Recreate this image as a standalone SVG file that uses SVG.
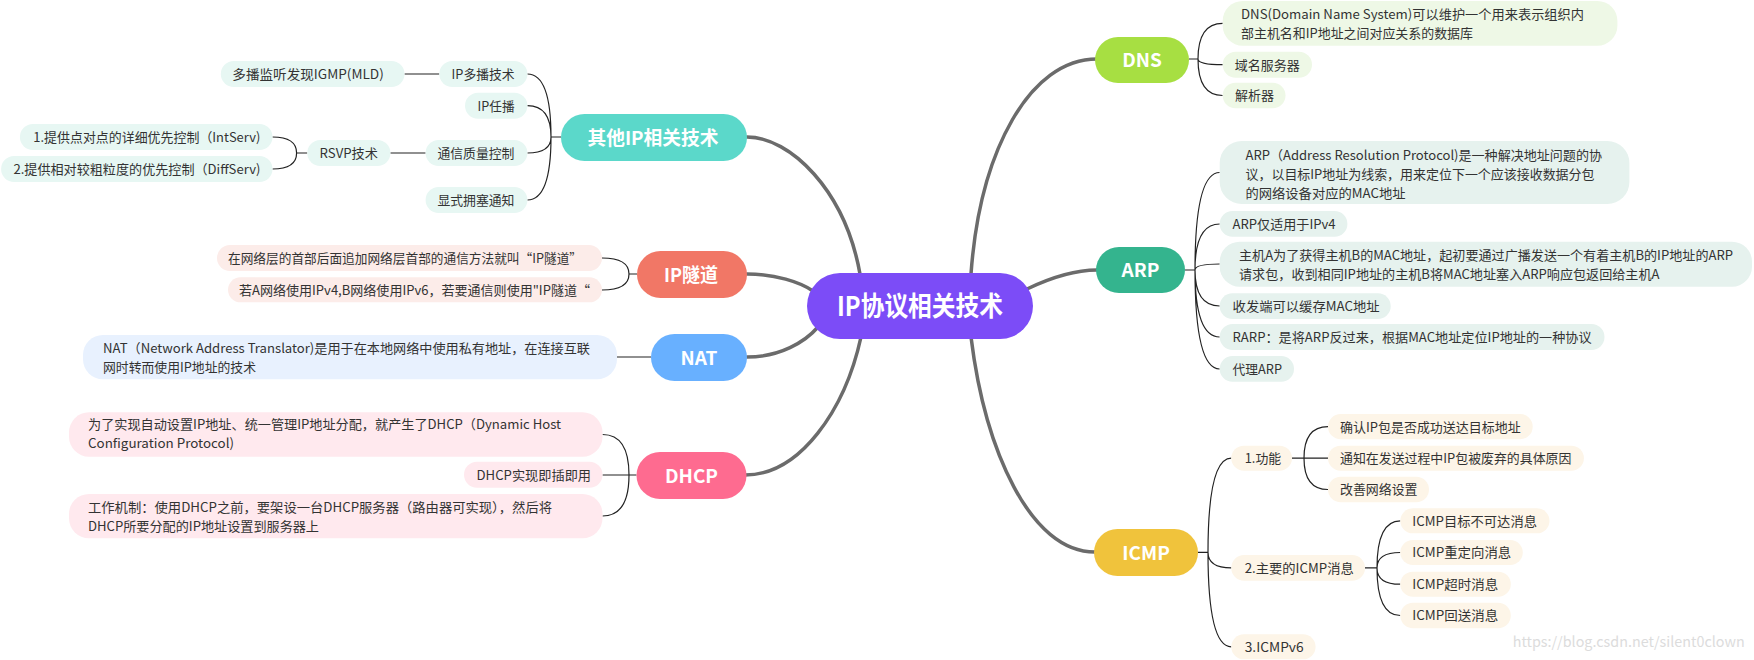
<svg xmlns="http://www.w3.org/2000/svg" width="1754" height="660" viewBox="0 0 1754 660">
<style>
text{font-family:"Noto Sans CJK SC","Noto Sans",sans-serif}
.t{font-size:13px;fill:#333}
.m{font-size:19px;font-weight:bold;fill:#fff;text-anchor:middle}
.thick{fill:none;stroke:#6b6b6b;stroke-width:3.5;stroke-linecap:round}
.thin{fill:none;stroke:#222;stroke-width:1.2}
.c1{fill:#e7f7f3}.c2{fill:#fcece9}.c3{fill:#e8f1fe}.c4{fill:#ffe9ee}.c5{fill:#eef8e6}.c6{fill:#e6f2ee}.c7{fill:#fdf5e8}
</style>
<rect width="1754" height="660" fill="#fff"/>
<g id="connectors">
<path class="thick" d="M747,137 C790,137 845,190 860,274"/>
<path class="thick" d="M971,274 C980,150 1030,59 1097,59"/>
<path class="thick" d="M747,274 C775,274 800,282 813,291"/>
<path class="thick" d="M747,357 C780,357 805,342 818,327"/>
<path class="thick" d="M1027,289 C1050,278 1075,270 1097,270"/>
<path class="thick" d="M861,337 C845,410 800,475 745,475"/>
<path class="thick" d="M971,337 C985,450 1030,552 1095,552"/>
<path class="thin" d="M404.5,74 H439.3 M390.4,153 H425.6 M296.6,153 H307.3 M272.5,137 Q296.6,137 296.6,153 M272.5,169 Q296.6,169 296.6,153"/>
<path class="thin" d="M551,137 H561 M527.4,74 Q551,74 551,137 M527.4,105.7 Q551,105.7 551,137 M527.4,153 Q551,153 551,137 M527.4,200 Q551,200 551,137"/>
<path class="thin" d="M629,274 H637 M602,258 Q629,258 629,274 M602,290 Q629,290 629,274"/>
<path class="thin" d="M617,357 H651"/>
<path class="thin" d="M629,475 H636.5 M602.5,434.5 Q629,434.5 629,475 M602.5,475 H629 M602.5,516 Q629,516 629,475"/>
<path class="thin" d="M1189,59 H1198 M1198,59 Q1198,23.3 1222.7,23.3 M1198,59 Q1198,64.7 1222.7,64.7 M1198,59 Q1198,95.5 1222.7,95.5"/>
<path class="thin" d="M1185,270 H1195 M1195,270 Q1195,172.5 1219.7,172.5 M1195,270 Q1195,224 1219.7,224 M1195,270 Q1195,264 1219.7,264 M1195,270 Q1195,306 1219.7,306 M1195,270 Q1195,337 1219.7,337 M1195,270 Q1195,369 1219.7,369"/>
<path class="thin" d="M1197.7,552.3 H1208 M1208,552.3 Q1208,458.2 1231.3,458.2 M1208,552.3 Q1208,567.9 1231.3,567.9 M1208,552.3 Q1208,646.8 1231.3,646.8"/>
<path class="thin" d="M1292,458.2 H1328 M1304,458.2 Q1304,426.7 1328,426.7 M1304,458.2 Q1304,489.5 1328,489.5"/>
<path class="thin" d="M1365,567.9 H1377 M1377,567.9 Q1377,520.8 1400.3,520.8 M1377,567.9 Q1377,552.5 1400.3,552.5 M1377,567.9 Q1377,584.2 1400.3,584.2 M1377,567.9 Q1377,615.5 1400.3,615.5"/>
</g>
<g id="center">
<rect x="807" y="273" width="226" height="66" rx="33" fill="#7c4cf7"/>
<text x="920" y="316" font-size="27" font-weight="bold" fill="#fff" text-anchor="middle" textLength="166" lengthAdjust="spacingAndGlyphs">IP协议相关技术</text>
</g>
<g id="other">
<rect x="561" y="114" width="186" height="47" rx="23.5" fill="#5bd8ca"/>
<text class="m" x="653" y="144.5" textLength="131" lengthAdjust="spacingAndGlyphs">其他IP相关技术</text>
</g>
<g id="other-children">
<rect class="c1" x="220.8" y="61" width="183.7" height="26" rx="13"/><text class="t" x="232.3" y="78.8" textLength="151.5" lengthAdjust="spacingAndGlyphs">多播监听发现IGMP(MLD)</text>
<rect class="c1" x="439.3" y="61" width="88.1" height="26" rx="13"/><text class="t" x="451.6" y="78.8" textLength="63" lengthAdjust="spacingAndGlyphs">IP多播技术</text>
<rect class="c1" x="465" y="92.7" width="62.4" height="26" rx="13"/><text class="t" x="477.6" y="110.5" textLength="37" lengthAdjust="spacingAndGlyphs">IP任播</text>
<rect class="c1" x="425.6" y="140" width="101.8" height="26" rx="13"/><text class="t" x="437.4" y="157.8" textLength="77" lengthAdjust="spacingAndGlyphs">通信质量控制</text>
<rect class="c1" x="425.6" y="187" width="101.8" height="26" rx="13"/><text class="t" x="437.4" y="204.8" textLength="77" lengthAdjust="spacingAndGlyphs">显式拥塞通知</text>
<rect class="c1" x="307.3" y="140" width="83.1" height="26" rx="13"/><text class="t" x="319.6" y="157.8" textLength="58.4" lengthAdjust="spacingAndGlyphs">RSVP技术</text>
<rect class="c1" x="19.9" y="124" width="252.6" height="26" rx="13"/><text class="t" x="33.3" y="141.8" textLength="227" lengthAdjust="spacingAndGlyphs">1.提供点对点的详细优先控制（IntServ)</text>
<rect class="c1" x="1.1" y="156" width="271.4" height="26" rx="13"/><text class="t" x="13.4" y="173.8" textLength="247" lengthAdjust="spacingAndGlyphs">2.提供相对较粗粒度的优先控制（DiffServ)</text>
</g>
<g id="tunnel">
<rect x="637" y="251" width="110" height="47" rx="23.5" fill="#f17766"/>
<text class="m" x="691" y="281.5" textLength="54" lengthAdjust="spacingAndGlyphs">IP隧道</text>
</g>
<g id="tunnel-children">
<rect class="c2" x="217" y="245" width="385" height="26" rx="13"/><text class="t" x="228" y="262.8" textLength="354" lengthAdjust="spacingAndGlyphs">在网络层的首部后面追加网络层首部的通信方法就叫“IP隧道”</text>
<rect class="c2" x="228" y="277.3" width="374" height="25" rx="12.5"/><text class="t" x="239" y="294.6" textLength="351" lengthAdjust="spacingAndGlyphs">若A网络使用IPv4,B网络使用IPv6，若要通信则使用"IP隧道“</text>
</g>
<g id="nat">
<rect x="651" y="334" width="96" height="47" rx="23.5" fill="#68b0ff"/>
<text class="m" x="699" y="364.5">NAT</text>
</g>
<g id="nat-children">
<rect class="c3" x="83" y="335" width="534" height="44.3" rx="20"/>
<text class="t" x="103" y="352.5" textLength="487" lengthAdjust="spacingAndGlyphs">NAT（Network Address Translator)是用于在本地网络中使用私有地址，在连接互联</text>
<text class="t" x="103" y="371.5" textLength="153" lengthAdjust="spacingAndGlyphs">网时转而使用IP地址的技术</text>
</g>
<g id="dhcp">
<rect x="636.5" y="452" width="110" height="47" rx="23.5" fill="#fe6b90"/>
<text class="m" x="691.5" y="482.5">DHCP</text>
</g>
<g id="dhcp-children">
<rect class="c4" x="69" y="412.3" width="533.5" height="44.4" rx="20"/>
<text class="t" x="88" y="429.1" textLength="473" lengthAdjust="spacingAndGlyphs">为了实现自动设置IP地址、统一管理IP地址分配，就产生了DHCP（Dynamic Host</text>
<text class="t" x="88" y="448.1" textLength="146" lengthAdjust="spacingAndGlyphs">Configuration Protocol)</text>
<rect class="c4" x="464" y="461.7" width="138.5" height="26" rx="13"/><text class="t" x="476.5" y="479.5" textLength="114.5" lengthAdjust="spacingAndGlyphs">DHCP实现即插即用</text>
<rect class="c4" x="69" y="494" width="533.5" height="44.3" rx="20"/>
<text class="t" x="88" y="511.5" textLength="464" lengthAdjust="spacingAndGlyphs">工作机制：使用DHCP之前，要架设一台DHCP服务器（路由器可实现），然后将</text>
<text class="t" x="88" y="530.8" textLength="231" lengthAdjust="spacingAndGlyphs">DHCP所要分配的IP地址设置到服务器上</text>
</g>
<g id="dns">
<rect x="1095" y="37" width="94" height="46" rx="23" fill="#a7df42"/>
<text class="m" x="1142" y="66.5">DNS</text>
</g>
<g id="dns-children">
<rect class="c5" x="1222.7" y="1" width="394.7" height="44.7" rx="20"/>
<text class="t" x="1241" y="19.1" textLength="343" lengthAdjust="spacingAndGlyphs">DNS(Domain Name System)可以维护一个用来表示组织内</text>
<text class="t" x="1241" y="38.1" textLength="232" lengthAdjust="spacingAndGlyphs">部主机名和IP地址之间对应关系的数据库</text>
<rect class="c5" x="1222.7" y="51.7" width="89.3" height="26" rx="13"/><text class="t" x="1234.8" y="69.5" textLength="65" lengthAdjust="spacingAndGlyphs">域名服务器</text>
<rect class="c5" x="1222.7" y="82.7" width="62.8" height="25.6" rx="12.8"/><text class="t" x="1235" y="100.3" textLength="39" lengthAdjust="spacingAndGlyphs">解析器</text>
</g>
<g id="arp">
<rect x="1096" y="247" width="89" height="46" rx="23" fill="#34b48e"/>
<text class="m" x="1140.5" y="277">ARP</text>
</g>
<g id="arp-children">
<rect class="c6" x="1219.7" y="141" width="409.7" height="63" rx="22"/>
<text class="t" x="1245.5" y="159.8" textLength="356.5" lengthAdjust="spacingAndGlyphs">ARP（Address Resolution Protocol)是一种解决地址问题的协</text>
<text class="t" x="1245.5" y="178.8" textLength="349" lengthAdjust="spacingAndGlyphs">议，以目标IP地址为线索，用来定位下一个应该接收数据分包</text>
<text class="t" x="1245.5" y="197.8" textLength="160" lengthAdjust="spacingAndGlyphs">的网络设备对应的MAC地址</text>
<rect class="c6" x="1219.7" y="211" width="127.7" height="25.7" rx="12.8"/><text class="t" x="1232.6" y="228.8" textLength="103" lengthAdjust="spacingAndGlyphs">ARP仅适用于IPv4</text>
<rect class="c6" x="1219.7" y="241.7" width="532.3" height="45" rx="20"/>
<text class="t" x="1239" y="259.8" textLength="494" lengthAdjust="spacingAndGlyphs">主机A为了获得主机B的MAC地址，起初要通过广播发送一个有着主机B的IP地址的ARP</text>
<text class="t" x="1239" y="278.8" textLength="420.5" lengthAdjust="spacingAndGlyphs">请求包，收到相同IP地址的主机B将MAC地址塞入ARP响应包返回给主机A</text>
<rect class="c6" x="1219.7" y="293.3" width="171" height="25.7" rx="12.8"/><text class="t" x="1232.6" y="310.8" textLength="147" lengthAdjust="spacingAndGlyphs">收发端可以缓存MAC地址</text>
<rect class="c6" x="1219.7" y="324" width="384.8" height="26" rx="13"/><text class="t" x="1232.6" y="341.8" textLength="359" lengthAdjust="spacingAndGlyphs">RARP：是将ARP反过来，根据MAC地址定位IP地址的一种协议</text>
<rect class="c6" x="1219.7" y="356" width="74.3" height="25.7" rx="12.8"/><text class="t" x="1232.6" y="373.6" textLength="49.4" lengthAdjust="spacingAndGlyphs">代理ARP</text>
</g>
<g id="icmp">
<rect x="1094" y="529" width="104" height="47" rx="23.5" fill="#f0c33c"/>
<text class="m" x="1146" y="559.5">ICMP</text>
</g>
<g id="icmp-children">
<rect class="c7" x="1231.3" y="445.7" width="60.7" height="25" rx="12.5"/><text class="t" x="1244.7" y="463" textLength="36.5" lengthAdjust="spacingAndGlyphs">1.功能</text>
<rect class="c7" x="1231.3" y="555" width="133.7" height="25.7" rx="12.8"/><text class="t" x="1244.7" y="572.7" textLength="109" lengthAdjust="spacingAndGlyphs">2.主要的ICMP消息</text>
<rect class="c7" x="1231.3" y="634.3" width="84.3" height="25" rx="12.5"/><text class="t" x="1244.7" y="651.6" textLength="59" lengthAdjust="spacingAndGlyphs">3.ICMPv6</text>
<rect class="c7" x="1328" y="414" width="204.7" height="25.3" rx="12.6"/><text class="t" x="1340" y="431.5" textLength="180.7" lengthAdjust="spacingAndGlyphs">确认IP包是否成功送达目标地址</text>
<rect class="c7" x="1328" y="445.7" width="255.9" height="25" rx="12.5"/><text class="t" x="1340" y="463" textLength="231.4" lengthAdjust="spacingAndGlyphs">通知在发送过程中IP包被废弃的具体原因</text>
<rect class="c7" x="1328" y="476.7" width="101" height="25.6" rx="12.8"/><text class="t" x="1340" y="494.3" textLength="77.5" lengthAdjust="spacingAndGlyphs">改善网络设置</text>
<rect class="c7" x="1400.3" y="508.3" width="149.2" height="25" rx="12.5"/><text class="t" x="1412.3" y="525.6" textLength="124.7" lengthAdjust="spacingAndGlyphs">ICMP目标不可达消息</text>
<rect class="c7" x="1400.3" y="540" width="122.5" height="25" rx="12.5"/><text class="t" x="1412.3" y="557.3" textLength="99" lengthAdjust="spacingAndGlyphs">ICMP重定向消息</text>
<rect class="c7" x="1400.3" y="571.7" width="110.5" height="25" rx="12.5"/><text class="t" x="1412.3" y="589" textLength="86" lengthAdjust="spacingAndGlyphs">ICMP超时消息</text>
<rect class="c7" x="1400.3" y="602.7" width="110.5" height="25.6" rx="12.8"/><text class="t" x="1412.3" y="620.3" textLength="86" lengthAdjust="spacingAndGlyphs">ICMP回送消息</text>
</g>
<text x="1512.7" y="647" font-family="Liberation Sans, Arial, sans-serif" font-size="14.5" fill="#dcdcdc" textLength="232" lengthAdjust="spacingAndGlyphs">https://blog.csdn.net/silent0clown</text>
</svg>
